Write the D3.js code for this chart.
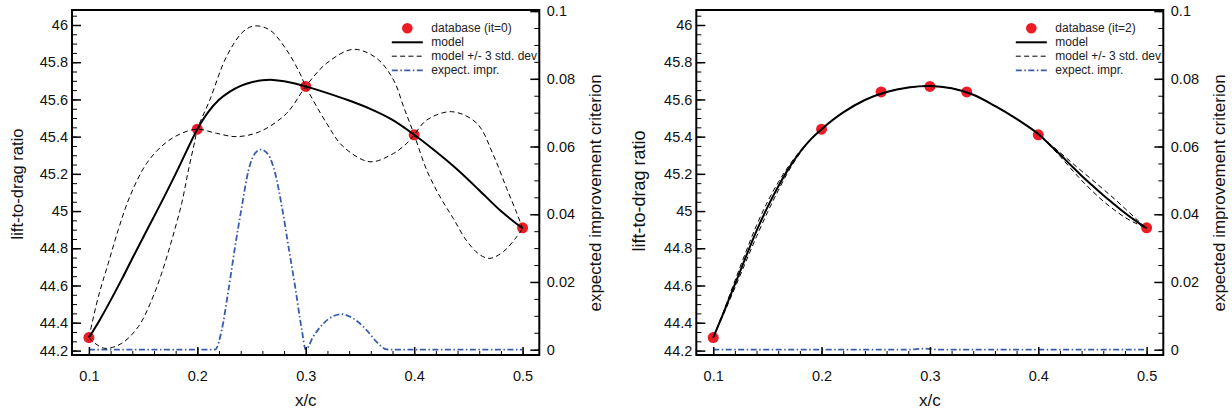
<!DOCTYPE html>
<html><head><meta charset="utf-8">
<script src="https://cdn.jsdelivr.net/npm/d3@7"></script>
<style>
body{margin:0;background:#fff;}
svg{display:block;font-family:"Liberation Sans",Arial,Helvetica,sans-serif;}
</style></head><body>
<svg id="chart" width="1232" height="414"></svg>
<script>
// ---------- tick labels ----------
const xTickValues = [0.1, 0.2, 0.3, 0.4, 0.5];
const xTickLabels = ["0.1", "0.2", "0.3", "0.4", "0.5"];
const yTickValues = [44.25, 44.4, 44.6, 44.8, 45, 45.2, 45.4, 45.6, 45.8, 46];
const yTickLabels = ["44.2", "44.4", "44.6", "44.8", "45", "45.2", "45.4", "45.6", "45.8", "46"];
const eTickValues = [0, 0.02, 0.04, 0.06, 0.08, 0.1];
const eTickLabels = ["0", "0.02", "0.04", "0.06", "0.08", "0.1"];

// ---------- left panel (it=0) ----------
const db0X = [0.1, 0.2, 0.3, 0.4, 0.5];
const db0Y = [44.32, 45.44, 45.67, 45.41, 44.91];
const model0X = [0.100,0.110,0.120,0.130,0.140,0.150,0.160,0.170,0.180,0.190,0.200,0.210,0.220,0.230,0.240,0.250,0.260,0.270,0.280,0.290,0.300,0.320,0.340,0.360,0.380,0.400,0.420,0.440,0.460,0.480,0.500];
const model0Y = [44.320,44.415,44.520,44.630,44.745,44.858,44.970,45.083,45.200,45.322,45.440,45.532,45.598,45.642,45.673,45.692,45.703,45.705,45.698,45.686,45.670,45.634,45.594,45.548,45.490,45.410,45.320,45.222,45.112,45.000,44.907];
const devA0X = [0.100,0.1087,0.1179,0.1271,0.1379,0.1533,0.1702,0.1856,0.200,0.2176,0.2361,0.2576,0.2823,0.300,0.3192,0.3438,0.3654,0.381,0.3902,0.400,0.4115,0.4238,0.4361,0.4484,0.4608,0.4700,0.4823,0.4946,0.500];
const devA0Y = [44.32,44.54,44.72,44.90,45.08,45.257,45.364,45.418,45.44,45.418,45.400,45.427,45.525,45.67,45.794,45.869,45.821,45.704,45.561,45.41,45.221,45.077,44.96,44.84,44.764,44.746,44.782,44.862,44.907];
const devB0X = [0.100,0.1056,0.1148,0.1302,0.1456,0.1579,0.1671,0.1764,0.1856,0.1918,0.1979,0.200,0.2115,0.2269,0.2422,0.2528,0.2668,0.2823,0.2946,0.300,0.3192,0.3346,0.3592,0.381,0.3931,0.400,0.4115,0.4346,0.4577,0.4731,0.4854,0.4946,0.500];
const devB0Y = [44.32,44.289,44.262,44.289,44.379,44.522,44.666,44.844,45.042,45.221,45.382,45.44,45.597,45.830,45.964,45.995,45.973,45.866,45.74,45.67,45.472,45.346,45.265,45.310,45.364,45.41,45.489,45.534,45.472,45.30,45.12,44.99,44.907];
const ei0X = [0.100,0.210,0.2163,0.2225,0.2287,0.2348,0.2410,0.2472,0.2533,0.2588,0.2656,0.2718,0.2780,0.2841,0.2902,0.2964,0.3000,0.3068,0.3161,0.3253,0.3330,0.3438,0.3561,0.3653,0.3746,0.3800,0.500];
const ei0Y = [0,0,0,0.0058,0.0176,0.0304,0.0422,0.0530,0.0580,0.0591,0.0575,0.0521,0.0422,0.0304,0.0186,0.0058,0,0.0038,0.0077,0.0099,0.0105,0.0092,0.0058,0.0023,0.0001,0,0];

// ---------- right panel (it=2) ----------
const db2X = [0.1, 0.2, 0.255, 0.3, 0.334, 0.4, 0.5];
const db2Y = [44.32, 45.44, 45.64, 45.67, 45.64, 45.41, 44.91];
const model2X = [0.10,0.11,0.12,0.13,0.14,0.15,0.16,0.17,0.18,0.19,0.20,0.22,0.24,0.26,0.28,0.30,0.32,0.34,0.36,0.38,0.40,0.41,0.42,0.43,0.44,0.45,0.46,0.47,0.48,0.49,0.50];
const model2Y = [44.320,44.460,44.606,44.752,44.893,45.020,45.132,45.232,45.316,45.385,45.440,45.530,45.597,45.640,45.664,45.672,45.660,45.625,45.565,45.495,45.414,45.360,45.305,45.247,45.190,45.137,45.085,45.037,44.990,44.947,44.907];
const upper2Y = [44.320,44.468,44.625,44.778,44.923,45.048,45.154,45.245,45.322,45.387,45.440,45.530,45.597,45.640,45.664,45.672,45.660,45.625,45.565,45.495,45.414,45.364,45.315,45.265,45.215,45.167,45.117,45.067,45.014,44.960,44.907];
const lower2Y = [44.320,44.452,44.587,44.726,44.863,44.992,45.110,45.219,45.310,45.383,45.440,45.530,45.597,45.640,45.664,45.672,45.660,45.625,45.565,45.495,45.414,45.356,45.295,45.229,45.165,45.107,45.053,45.007,44.966,44.934,44.907];
const ei2X = [0.10, 0.28, 0.295, 0.31, 0.50];
const ei2Y = [0, 0, 0.0003, 0, 0];

const legendLabels0 = ["database (it=0)", "model", "model +/- 3 std. dev", "expect. impr."];
const legendLabels2 = ["database (it=2)", "model", "model +/- 3 std. dev", "expect. impr."];

// ---------- drawing ----------
const RED = "#ec1c24", BLUE = "#3a5cad", INK = "#111";
const xDomain = [0.0844, 0.5154];
const yDomain = [44.2264, 46.0806];
const eDomain = [-0.00157, 0.10032];
const svg = d3.select("#chart");
const smooth = d3.curveCatmullRom.alpha(0.5);

function styleAxis(g, width) {
  g.select(".domain").remove();
  g.selectAll(".tick line").attr("stroke", "#000").attr("stroke-width", width);
  g.selectAll(".tick text").attr("fill", INK).style("font-size", "14.5px")
    .style("font-family", '"Liberation Sans", Arial, sans-serif');
}

function panel(cfg) {
  const {x0, x1, y0, y1} = cfg;
  const sx = d3.scaleLinear().domain(xDomain).range([x0, x1]);
  const sy = d3.scaleLinear().domain(yDomain).range([y1, y0]);
  const se = d3.scaleLinear().domain(eDomain).range([y1, y0]);
  const g = svg.append("g");
  const clipId = "clip" + cfg.id;
  svg.append("clipPath").attr("id", clipId).append("rect")
    .attr("x", x0).attr("y", y0).attr("width", x1 - x0).attr("height", y1 - y0);

  // database points (under the curves)
  g.append("g").selectAll("circle").data(d3.zip(cfg.dbX, cfg.dbY)).join("circle")
    .attr("cx", d => sx(d[0])).attr("cy", d => sy(d[1])).attr("r", 5.5).attr("fill", RED);

  const plot = g.append("g").attr("clip-path", `url(#${clipId})`);
  const ln = (sc, curve) => d3.line().curve(curve).x(d => sx(d[0])).y(d => sc(d[1]));

  plot.append("path").attr("d", ln(se, d3.curveMonotoneX)(d3.zip(cfg.eiX, cfg.eiY)))
    .attr("fill", "none").attr("stroke", BLUE).attr("stroke-width", 1.8)
    .attr("stroke-dasharray", "6,2.5,1.5,2.5");
  cfg.devs.forEach(([xs, ys]) => {
    plot.append("path").attr("d", ln(sy, smooth)(d3.zip(xs, ys)))
      .attr("fill", "none").attr("stroke", "#000").attr("stroke-width", 1)
      .attr("stroke-dasharray", "5,3.3");
  });
  plot.append("path").attr("d", ln(sy, smooth)(d3.zip(cfg.modelX, cfg.modelY)))
    .attr("fill", "none").attr("stroke", "#000").attr("stroke-width", 2);

  // axes (ticks inside)
  const xMinor = d3.range(0.1, 0.5001, 0.02);
  const yMinor = d3.range(44.25, 46.06, 0.05);
  const eMinor = d3.range(0, 0.1001, 0.005);

  g.append("g").attr("transform", `translate(0,${y1})`)
    .call(d3.axisBottom(sx).tickValues(xMinor).tickSize(-4).tickFormat(""))
    .call(a => styleAxis(a, 1));
  g.append("g").attr("transform", `translate(0,${y1})`)
    .call(d3.axisBottom(sx).tickValues(xTickValues).tickSize(-8).tickPadding(16)
      .tickFormat((d, i) => xTickLabels[i]))
    .call(a => styleAxis(a, 1.5));

  g.append("g").attr("transform", `translate(${x0},0)`)
    .call(d3.axisLeft(sy).tickValues(yMinor).tickSize(-5).tickFormat(""))
    .call(a => styleAxis(a, 1));
  g.append("g").attr("transform", `translate(${x0},0)`)
    .call(d3.axisLeft(sy).tickValues(yTickValues).tickSize(-9).tickPadding(4)
      .tickFormat((d, i) => yTickLabels[i]))
    .call(a => styleAxis(a, 1.5));

  g.append("g").attr("transform", `translate(${x1},0)`)
    .call(d3.axisRight(se).tickValues(eMinor).tickSize(-5).tickFormat(""))
    .call(a => styleAxis(a, 1));
  g.append("g").attr("transform", `translate(${x1},0)`)
    .call(d3.axisRight(se).tickValues(eTickValues).tickSize(-9).tickPadding(7.5)
      .tickFormat((d, i) => eTickLabels[i]))
    .call(a => styleAxis(a, 1.5));

  // frame
  g.append("rect").attr("x", x0).attr("y", y0).attr("width", x1 - x0).attr("height", y1 - y0)
    .attr("fill", "none").attr("stroke", "#000").attr("stroke-width", 2);

  // axis titles
  g.append("text").attr("x", (sx(0.3))).attr("y", 406).attr("text-anchor", "middle")
    .style("font-size", "17px").attr("fill", INK).text("x/c");
  g.append("text").attr("transform", `translate(${x0 - cfg.ytOff},${cfg.ytY}) rotate(-90)`)
    .attr("text-anchor", "middle").attr("dominant-baseline", "central")
    .style("font-size", cfg.ytSize + "px").attr("fill", INK).text("lift-to-drag ratio");
  g.append("text").attr("transform", `translate(${x1 + 56},193) rotate(-90)`)
    .attr("text-anchor", "middle").attr("dominant-baseline", "central")
    .style("font-size", "17px").attr("fill", INK).text("expected improvement criterion");

  // legend
  const lg = g.append("g");
  const rows = [28.3, 42.3, 56.2, 70.3];
  const ls = x1 - 147.5, le = x1 - 116.5, tx = x1 - 108;
  lg.append("circle").attr("cx", (ls + le) / 2).attr("cy", rows[0]).attr("r", 5.3).attr("fill", RED);
  lg.append("line").attr("x1", ls).attr("x2", le).attr("y1", rows[1]).attr("y2", rows[1])
    .attr("stroke", "#000").attr("stroke-width", 2);
  lg.append("line").attr("x1", ls).attr("x2", le).attr("y1", rows[2]).attr("y2", rows[2])
    .attr("stroke", "#000").attr("stroke-width", 1).attr("stroke-dasharray", "5,3.3");
  lg.append("line").attr("x1", ls).attr("x2", le).attr("y1", rows[3]).attr("y2", rows[3])
    .attr("stroke", BLUE).attr("stroke-width", 1.8).attr("stroke-dasharray", "6,2.5,1.5,2.5");
  cfg.legend.forEach((t, i) => {
    lg.append("text").attr("x", tx).attr("y", rows[i]).attr("dominant-baseline", "central")
      .style("font-size", "12px").attr("fill", "#222").text(t);
  });
}

panel({id: 0, x0: 72, x1: 539.3, y0: 10, y1: 355,
  dbX: db0X, dbY: db0Y, modelX: model0X, modelY: model0Y,
  devs: [[devA0X, devA0Y], [devB0X, devB0Y]], eiX: ei0X, eiY: ei0Y,
  legend: legendLabels0, ytOff: 55, ytY: 184, ytSize: 16.5});
panel({id: 1, x0: 696.3, x1: 1163.3, y0: 10, y1: 355,
  dbX: db2X, dbY: db2Y, modelX: model2X, modelY: model2Y,
  devs: [[model2X, upper2Y], [model2X, lower2Y]], eiX: ei2X, eiY: ei2Y,
  legend: legendLabels2, ytOff: 57, ytY: 191, ytSize: 18});
</script>
</body></html>
